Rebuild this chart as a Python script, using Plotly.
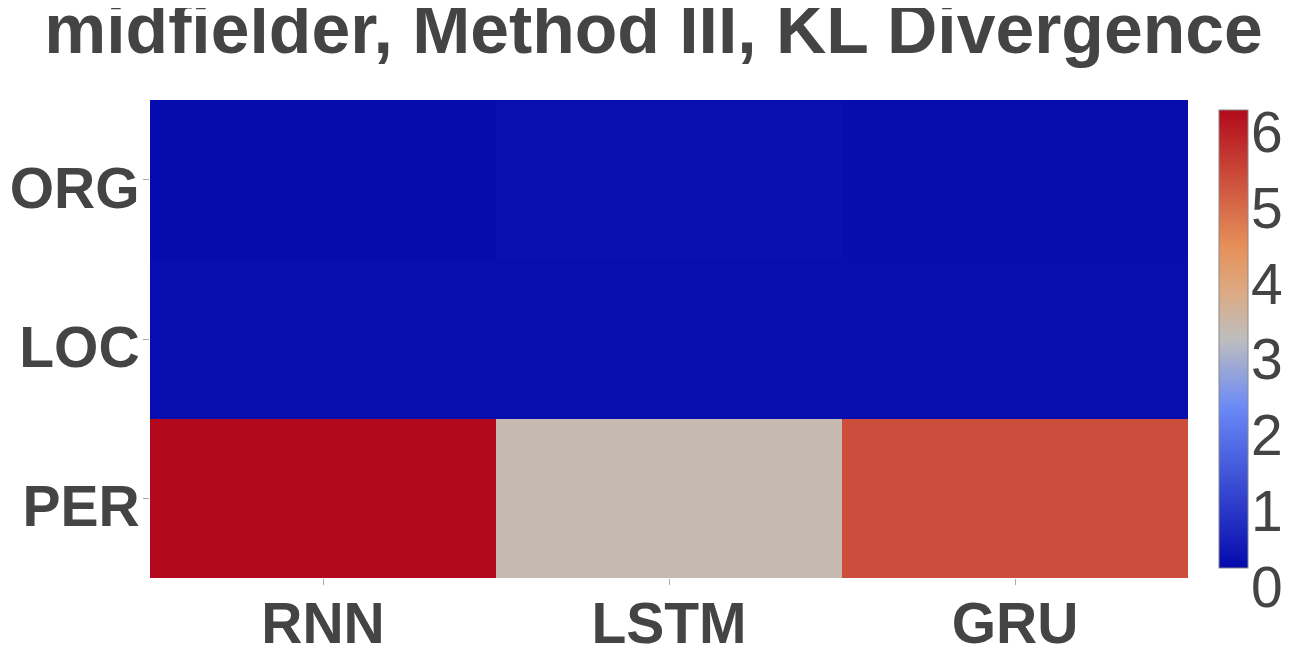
import plotly.graph_objects as go

models = ["RNN", "LSTM", "GRU"]
entities = ["ORG", "LOC", "PER"]
org_vals = [0.02, 0.10, 0.04]
loc_vals = [0.05, 0.06, 0.07]
per_vals = [6.04, 3.17, 5.14]
cbar_ticks = [0, 1, 2, 3, 4, 5, 6]

rdbu = [[0, "rgb(5,10,172)"], [0.35, "rgb(106,137,247)"], [0.5, "rgb(190,190,190)"],
        [0.6, "rgb(220,170,132)"], [0.7, "rgb(230,145,90)"], [1, "rgb(178,10,28)"]]

zmin = 0
zmax = max(org_vals + loc_vals + per_vals)

W, H = 1307, 658
L, R, T, B = 142, 8, 92, 88
pw = W - L - R
ph = H - T - B

fig = go.Figure()
fig.add_trace(go.Heatmap(
    x=models, y=entities, z=[org_vals, loc_vals, per_vals],
    colorscale=rdbu, zmin=zmin, zmax=zmax,
    colorbar=dict(showticklabels=False, outlinecolor="#888", outlinewidth=1,
                  thickness=29, x=(1211 - L) / pw, xanchor="left", xpad=0,
                  len=1, ypad=10),
))
# numeric axis carrying the colour-bar tick labels
fig.add_trace(go.Scatter(x=[], y=[], xaxis="x", yaxis="y2", showlegend=False, hoverinfo="skip"))

fig.update_layout(
    width=W, height=H,
    margin=dict(l=L, r=R, t=T, b=B, autoexpand=False),
    paper_bgcolor="white", plot_bgcolor="rgba(0,0,0,0)",
    font=dict(family="Liberation Sans", color="#444"),
    title=dict(text="<b>midfielder, Method III, KL Divergence</b>", x=645.5 / W, xanchor="center",
               xref="container", y=0.968, yanchor="middle", yref="container",
               font=dict(size=69.7, color="#444", family="Liberation Sans")),
    xaxis=dict(domain=[0, 1038 / pw], tickfont=dict(size=57, color="#444"), ticks="outside",
               ticklen=6, tickcolor="#aaa", tickprefix="<b>", ticksuffix="</b>",
               automargin=False, showgrid=False, zeroline=False, ticklabelstandoff=-10),
    yaxis=dict(autorange="reversed", tickfont=dict(size=57, color="#444"), ticks="outside",
               ticklen=6, tickcolor="#aaa", tickprefix="<b>", ticksuffix="</b>",
               ticklabelshift=-8, ticklabelstandoff=-8, automargin=False, showgrid=False),
    yaxis2=dict(anchor="free", position=(1242 - L) / pw, side="right",
                domain=[10 / ph, 1 - 10 / ph], range=[zmin, zmax],
                tickvals=cbar_ticks, ticktext=[str(t) for t in cbar_ticks],
                tickfont=dict(size=57, color="#444", family="Liberation Sans"),
                ticklabelshift=19, showgrid=False, zeroline=False, showline=False,
                ticks="", automargin=False, fixedrange=True),
)
fig.write_html("out.html")
